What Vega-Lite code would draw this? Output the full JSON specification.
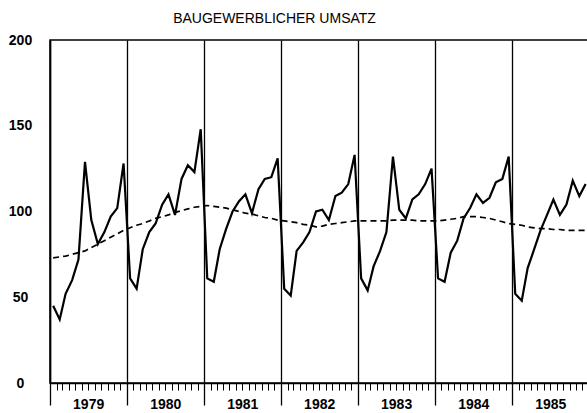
{
  "$schema": "https://vega.github.io/schema/vega-lite/v6.json",
  "width": 539,
  "height": 343,
  "autosize": "none",
  "padding": {"left": 50, "top": 40, "right": 0, "bottom": 30},
  "background": "white",
  "title": {
    "text": "BAUGEWERBLICHER UMSATZ",
    "font": "Liberation Sans",
    "fontSize": 14,
    "fontWeight": "normal",
    "color": "black",
    "anchor": "middle",
    "dx": -45,
    "offset": 7
  },
  "config": {
    "view": {"stroke": "black", "strokeWidth": 1.5},
    "axis": {"labelColor": "black", "tickColor": "black", "domainColor": "black"}
  },
  "datasets": {
    "umsatz": [
      {"date": "1979-01-16", "value": 45, "trend": 73},
      {"date": "1979-02-16", "value": 37, "trend": 73.5},
      {"date": "1979-03-16", "value": 52, "trend": 74},
      {"date": "1979-04-16", "value": 60, "trend": 75},
      {"date": "1979-05-16", "value": 72, "trend": 76},
      {"date": "1979-06-16", "value": 129, "trend": 77},
      {"date": "1979-07-16", "value": 95, "trend": 79},
      {"date": "1979-08-16", "value": 81, "trend": 81},
      {"date": "1979-09-16", "value": 88, "trend": 83},
      {"date": "1979-10-16", "value": 97, "trend": 85},
      {"date": "1979-11-16", "value": 102, "trend": 87},
      {"date": "1979-12-16", "value": 128, "trend": 89},
      {"date": "1980-01-16", "value": 61, "trend": 90.5},
      {"date": "1980-02-16", "value": 55, "trend": 92},
      {"date": "1980-03-16", "value": 78, "trend": 93},
      {"date": "1980-04-16", "value": 88, "trend": 94.5},
      {"date": "1980-05-16", "value": 93, "trend": 96},
      {"date": "1980-06-16", "value": 104, "trend": 97},
      {"date": "1980-07-16", "value": 110, "trend": 98},
      {"date": "1980-08-16", "value": 98, "trend": 99.5},
      {"date": "1980-09-16", "value": 119, "trend": 100.5},
      {"date": "1980-10-16", "value": 127, "trend": 101.5},
      {"date": "1980-11-16", "value": 123, "trend": 102.5},
      {"date": "1980-12-16", "value": 148, "trend": 103},
      {"date": "1981-01-16", "value": 61, "trend": 103.5},
      {"date": "1981-02-16", "value": 59, "trend": 103},
      {"date": "1981-03-16", "value": 78, "trend": 102.5},
      {"date": "1981-04-16", "value": 90, "trend": 102},
      {"date": "1981-05-16", "value": 100, "trend": 101},
      {"date": "1981-06-16", "value": 106, "trend": 100},
      {"date": "1981-07-16", "value": 110, "trend": 99},
      {"date": "1981-08-16", "value": 99, "trend": 98.5},
      {"date": "1981-09-16", "value": 113, "trend": 97.5},
      {"date": "1981-10-16", "value": 119, "trend": 96.5},
      {"date": "1981-11-16", "value": 120, "trend": 96},
      {"date": "1981-12-16", "value": 131, "trend": 95},
      {"date": "1982-01-16", "value": 55, "trend": 94.5},
      {"date": "1982-02-16", "value": 51, "trend": 94},
      {"date": "1982-03-16", "value": 77, "trend": 93.5},
      {"date": "1982-04-16", "value": 82, "trend": 92.5},
      {"date": "1982-05-16", "value": 88, "trend": 92},
      {"date": "1982-06-16", "value": 100, "trend": 91},
      {"date": "1982-07-16", "value": 101, "trend": 91.5},
      {"date": "1982-08-16", "value": 95, "trend": 92.5},
      {"date": "1982-09-16", "value": 109, "trend": 93},
      {"date": "1982-10-16", "value": 111, "trend": 93.5},
      {"date": "1982-11-16", "value": 116, "trend": 94},
      {"date": "1982-12-16", "value": 133, "trend": 94.5},
      {"date": "1983-01-16", "value": 61, "trend": 94.5},
      {"date": "1983-02-16", "value": 54, "trend": 94.5},
      {"date": "1983-03-16", "value": 68, "trend": 94.5},
      {"date": "1983-04-16", "value": 77, "trend": 94.5},
      {"date": "1983-05-16", "value": 88, "trend": 94.5},
      {"date": "1983-06-16", "value": 132, "trend": 95},
      {"date": "1983-07-16", "value": 101, "trend": 95},
      {"date": "1983-08-16", "value": 96, "trend": 95},
      {"date": "1983-09-16", "value": 107, "trend": 95},
      {"date": "1983-10-16", "value": 110, "trend": 94.5},
      {"date": "1983-11-16", "value": 116, "trend": 94.5},
      {"date": "1983-12-16", "value": 125, "trend": 94.5},
      {"date": "1984-01-16", "value": 61, "trend": 94.5},
      {"date": "1984-02-16", "value": 59, "trend": 95},
      {"date": "1984-03-16", "value": 76, "trend": 95.5},
      {"date": "1984-04-16", "value": 83, "trend": 96},
      {"date": "1984-05-16", "value": 96, "trend": 97},
      {"date": "1984-06-16", "value": 102, "trend": 97},
      {"date": "1984-07-16", "value": 110, "trend": 97},
      {"date": "1984-08-16", "value": 105, "trend": 96.5},
      {"date": "1984-09-16", "value": 108, "trend": 96},
      {"date": "1984-10-16", "value": 117, "trend": 95},
      {"date": "1984-11-16", "value": 119, "trend": 94},
      {"date": "1984-12-16", "value": 132, "trend": 93},
      {"date": "1985-01-16", "value": 52, "trend": 92.5},
      {"date": "1985-02-16", "value": 48, "trend": 92},
      {"date": "1985-03-16", "value": 67, "trend": 91},
      {"date": "1985-04-16", "value": 78, "trend": 90.5},
      {"date": "1985-05-16", "value": 89, "trend": 90},
      {"date": "1985-06-16", "value": 98, "trend": 90},
      {"date": "1985-07-16", "value": 107, "trend": 89.5},
      {"date": "1985-08-16", "value": 98, "trend": 89.5},
      {"date": "1985-09-16", "value": 104, "trend": 89},
      {"date": "1985-10-16", "value": 118, "trend": 89},
      {"date": "1985-11-16", "value": 109, "trend": 89},
      {"date": "1985-12-16", "value": 116, "trend": 89}
    ],
    "yticks": [
      {"tick": 50},
      {"tick": 100},
      {"tick": 150}
    ]
  },
  "data": {"name": "umsatz"},
  "encoding": {
    "x": {
      "field": "date",
      "type": "temporal",
      "scale": {
        "type": "utc",
        "domain": [
          {"year": 1979, "month": 1, "date": 1, "utc": true},
          {"year": 1986, "month": 1, "date": 1, "utc": true}
        ],
        "nice": false
      },
      "axis": {
        "title": null,
        "orient": "bottom",
        "tickCount": {"interval": "month", "step": 1},
        "grid": true,
        "gridColor": "black",
        "gridWidth": 1.3,
        "gridOpacity": {"condition": {"test": "utcmonth(datum.value) == 0", "value": 1}, "value": 0},
        "tickSize": {"condition": {"test": "utcmonth(datum.value) == 0", "value": 22}, "value": 7},
        "tickWidth": {"condition": {"test": "utcmonth(datum.value) == 0", "value": 1.3}, "value": 1},
        "domainWidth": 1.5,
        "labelExpr": "utcmonth(datum.value) == 6 ? utcFormat(datum.value, '%Y') : ''",
        "labelOverlap": false,
        "labelFlush": false,
        "labelBound": false,
        "labelAlign": "center",
        "labelBaseline": "top",
        "labelPadding": 7,
        "labelFont": "Liberation Sans",
        "labelFontWeight": "bold",
        "labelFontSize": 14
      }
    }
  },
  "layer": [
    {
      "mark": {"type": "line", "color": "black", "strokeWidth": 2.2, "strokeJoin": "miter"},
      "encoding": {
        "y": {
          "field": "value",
          "type": "quantitative",
          "scale": {"domain": [0, 200], "nice": false, "zero": true},
          "axis": {
            "title": null,
            "orient": "left",
            "values": [0, 50, 100, 150, 200],
            "grid": false,
            "ticks": false,
            "domainWidth": 1.5,
            "labelAlign": "center",
            "labelBaseline": "middle",
            "labelPadding": 30,
            "labelFont": "Liberation Sans",
            "labelFontWeight": "bold",
            "labelFontSize": 14,
            "labelFlush": false,
            "labelBound": false,
            "labelOverlap": false
          }
        }
      }
    },
    {
      "mark": {"type": "line", "color": "black", "strokeWidth": 1.7, "strokeDash": [6, 4]},
      "encoding": {
        "y": {"field": "trend", "type": "quantitative"}
      }
    },
    {
      "data": {"name": "yticks"},
      "mark": {"type": "rule", "color": "black", "strokeWidth": 1.8},
      "encoding": {
        "x": {"datum": {"year": 1979, "month": 1, "date": 1, "utc": true}, "type": "temporal"},
        "x2": {"datum": {"year": 1979, "month": 2, "date": 17, "utc": true}},
        "y": {"field": "tick", "type": "quantitative"}
      }
    }
  ]
}
